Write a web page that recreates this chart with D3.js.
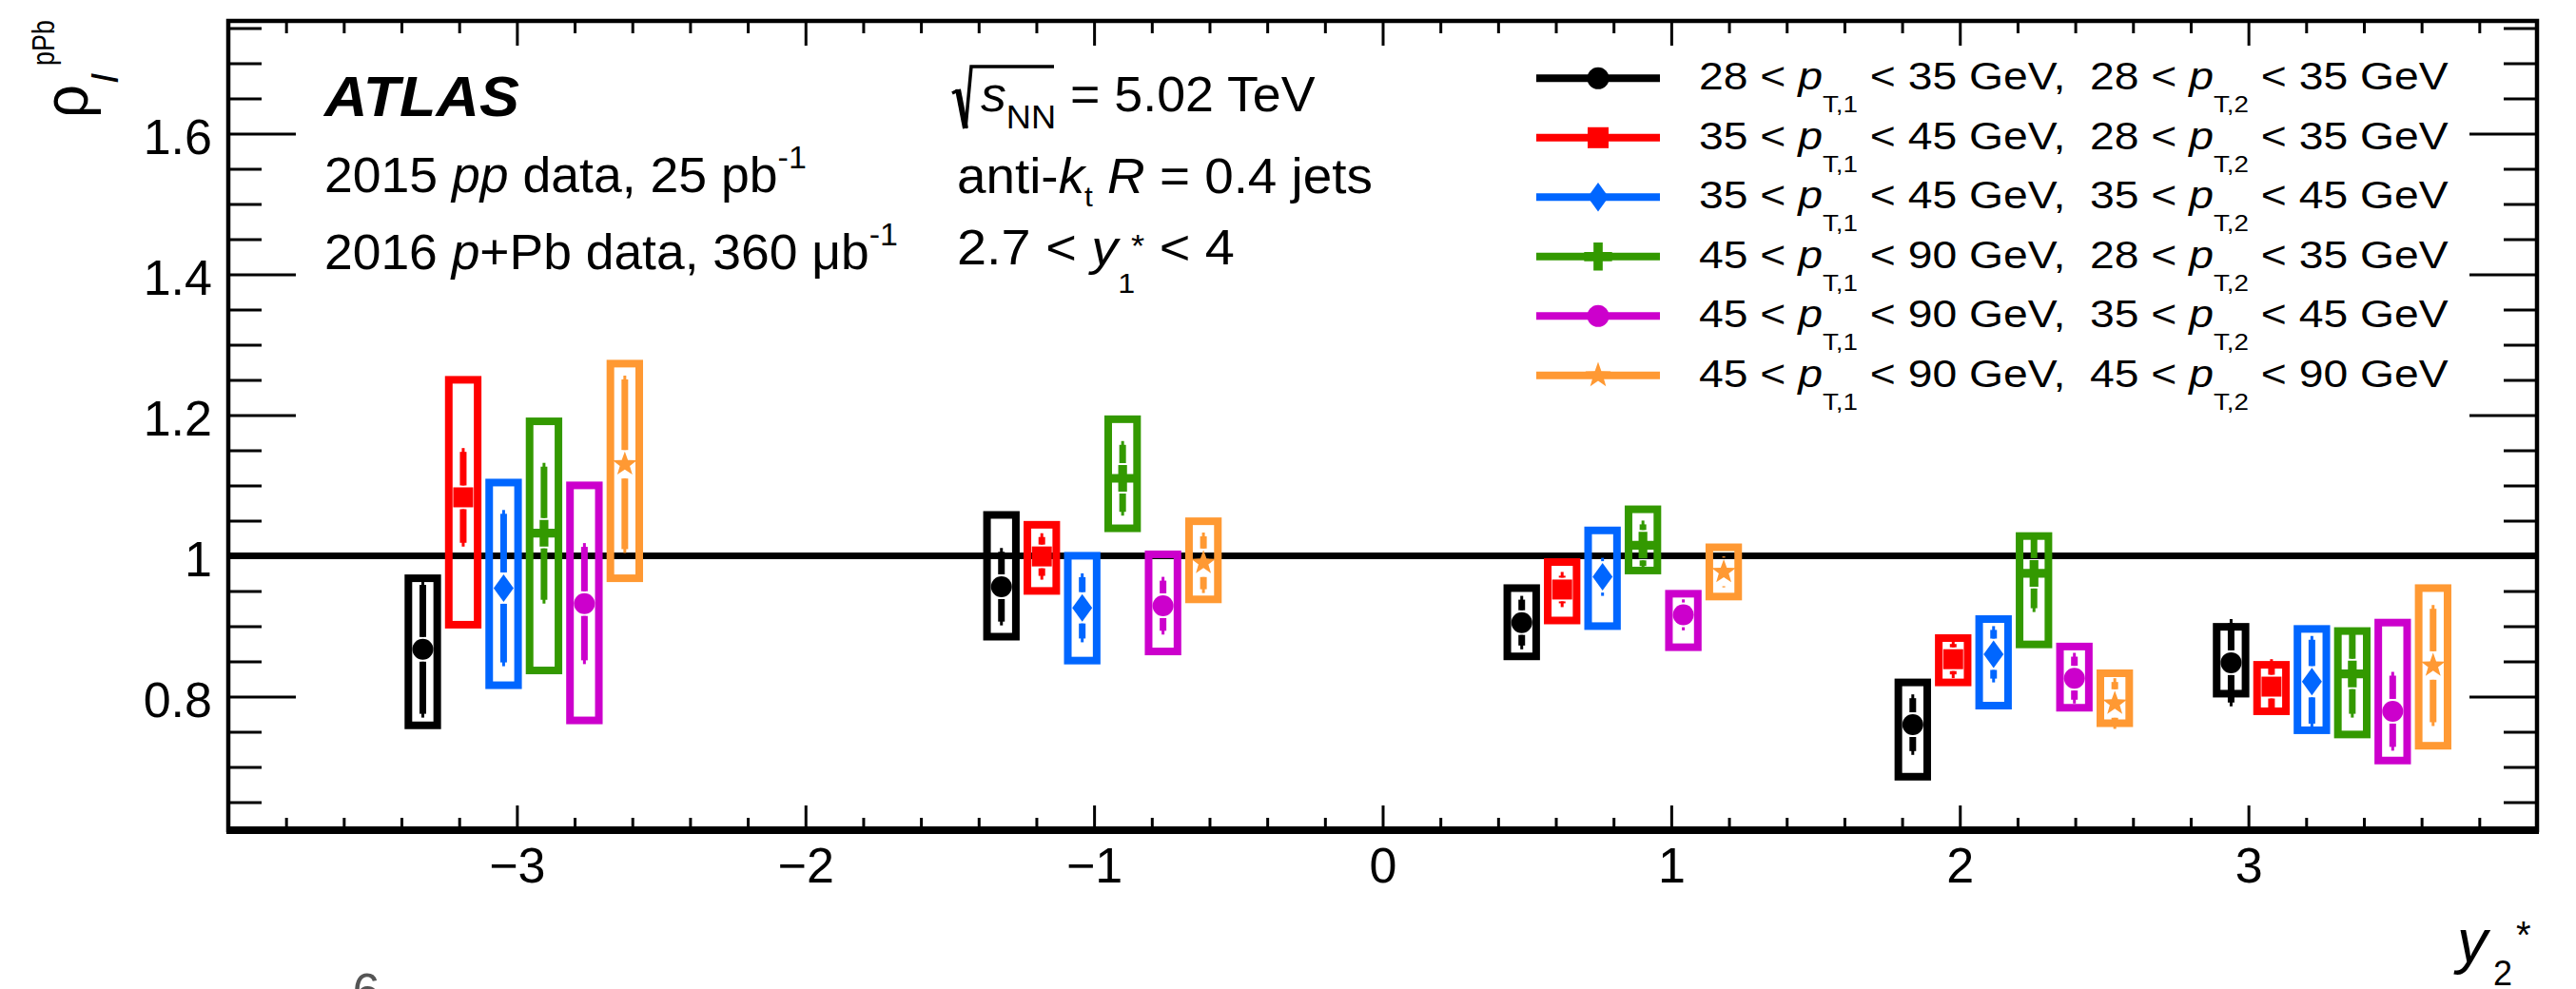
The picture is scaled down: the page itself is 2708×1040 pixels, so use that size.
<!DOCTYPE html>
<html>
<head>
<meta charset="utf-8">
<script src="https://cdn.jsdelivr.net/npm/d3@7"></script>
<style>
  html, body { margin: 0; padding: 0; background: #fff; }
  svg { display: block; }
  text { font-family: "Liberation Sans", Arial, Helvetica, sans-serif; fill: #000; white-space: pre; }
</style>
</head>
<body>
<svg id="chart" width="2708" height="1040"></svg>
<script>
// ---- data: rho_I^pPb versus y2*, six (pT,1 , pT,2) selections ----
const y2Centers = [-2.976, -0.971, 0.832, 2.187, 3.290];
const pt1Bins = [[28, 35], [35, 45], [35, 45], [45, 90], [45, 90], [45, 90]];
const pt2Bins = [[28, 35], [28, 35], [35, 45], [28, 35], [35, 45], [45, 90]];
const seriesColors = ["#000000", "#ff0000", "#0066ff", "#339900", "#cc00cc", "#ff9933"];
const seriesMarkers = ["circle", "square", "diamond", "cross", "circle", "star"];

// central values, one row per selection, one column per y2* bin
const rhoValues = [
  [0.867, 0.956, 0.905, 0.760, 0.848],
  [1.083, 0.999, 0.952, 0.853, 0.814],
  [0.954, 0.926, 0.970, 0.860, 0.821],
  [1.032, 1.110, 1.015, 0.975, 0.832],
  [0.932, 0.929, 0.916, 0.826, 0.779],
  [1.130, 0.990, 0.977, 0.790, 0.844]
];
const statErr = [
  [0.097, 0.055, 0.038, 0.043, 0.062],
  [0.070, 0.033, 0.025, 0.027, 0.039],
  [0.111, 0.049, 0.027, 0.040, 0.065],
  [0.100, 0.053, 0.035, 0.055, 0.062],
  [0.086, 0.041, 0.022, 0.036, 0.056],
  [0.126, 0.043, 0.022, 0.036, 0.086]
];
const systUp = [
  [0.101, 0.102, 0.049, 0.060, 0.051],
  [0.167, 0.045, 0.039, 0.030, 0.031],
  [0.150, 0.074, 0.066, 0.050, 0.075],
  [0.159, 0.084, 0.051, 0.053, 0.061],
  [0.168, 0.073, 0.030, 0.045, 0.126],
  [0.143, 0.059, 0.035, 0.043, 0.110]
];
const systDown = [
  [0.108, 0.071, 0.048, 0.074, 0.044],
  [0.181, 0.049, 0.044, 0.033, 0.035],
  [0.138, 0.075, 0.070, 0.073, 0.069],
  [0.195, 0.071, 0.036, 0.101, 0.086],
  [0.166, 0.065, 0.046, 0.042, 0.070],
  [0.162, 0.052, 0.035, 0.028, 0.114]
];
const xTicks = [-3, -2, -1, 0, 1, 2, 3];
const yTicks = [0.8, 1, 1.2, 1.4, 1.6];

// ---- layout ----
const L = 240, R = 2667, T = 22, B = 873;
const x = d3.scaleLinear().domain([-4, 4]).range([L, R]);
const y = d3.scaleLinear().domain([0.61, 1.76]).range([B, T]);
const svg = d3.select("#chart");
const FONT = 52;

// horizontal displacement of the selections inside one y2* bin (in y2* units)
const displace = s => (s - 2.5) * 0.14;
const boxHalf = 0.05;

// ---- marker shapes ----
function markerPath(kind, scale = 1) {
  const p = d3.path();
  if (kind === "circle") {
    const r = 11 * scale; p.moveTo(r, 0); p.arc(0, 0, r, 0, 2 * Math.PI);
  } else if (kind === "square") {
    const h = 10.5 * scale; p.rect(-h, -h, 2 * h, 2 * h);
  } else if (kind === "diamond") {
    const w = 10.5 * scale, h = 14.5 * scale;
    p.moveTo(0, -h); p.lineTo(w, 0); p.lineTo(0, h); p.lineTo(-w, 0); p.closePath();
  } else if (kind === "cross") {
    const a = 14 * scale, t = 4.6 * scale;
    p.moveTo(-t, -a); p.lineTo(t, -a); p.lineTo(t, -t); p.lineTo(a, -t); p.lineTo(a, t);
    p.lineTo(t, t); p.lineTo(t, a); p.lineTo(-t, a); p.lineTo(-t, t); p.lineTo(-a, t);
    p.lineTo(-a, -t); p.lineTo(-t, -t); p.closePath();
  } else if (kind === "star") {
    const ro = 13.5 * scale, ri = 5.5 * scale;
    for (let k = 0; k < 10; k++) {
      const ang = -Math.PI / 2 + k * Math.PI / 5, rr = k % 2 ? ri : ro;
      const px = rr * Math.cos(ang), py = rr * Math.sin(ang);
      k ? p.lineTo(px, py) : p.moveTo(px, py);
    }
    p.closePath();
  }
  return p.toString();
}
const markerHalfHeight = { circle: 11, square: 10.5, diamond: 14.5, cross: 14, star: 13 };

// ---- reference line at 1 ----
svg.append("line")
  .attr("x1", x(-4)).attr("x2", x(4)).attr("y1", y(1)).attr("y2", y(1))
  .attr("stroke", "#000").attr("stroke-width", 7);

// ---- systematic boxes ----
const plot = svg.append("g");
rhoValues.forEach((vals, s) => {
  plot.append("g").selectAll("rect").data(vals).join("rect")
    .attr("x", (v, g) => x(y2Centers[g] + displace(s) - boxHalf))
    .attr("width", (v, g) => x(y2Centers[g] + displace(s) + boxHalf) - x(y2Centers[g] + displace(s) - boxHalf))
    .attr("y", (v, g) => y(v + systUp[s][g]))
    .attr("height", (v, g) => y(v - systDown[s][g]) - y(v + systUp[s][g]))
    .attr("fill", "none").attr("stroke", seriesColors[s]).attr("stroke-width", 8);
});

// ---- statistical bars and markers ----
rhoValues.forEach((vals, s) => {
  const col = seriesColors[s], kind = seriesMarkers[s];
  const gap = markerHalfHeight[kind] + 2;
  const gs = plot.append("g");
  vals.forEach((v, g) => {
    const cx = x(y2Centers[g] + displace(s));
    const cy = y(v), yHi = y(v + statErr[s][g]), yLo = y(v - statErr[s][g]);
    // thin full-length line plus thick body, interrupted at the marker
    [[yHi, cy - gap], [cy + gap, yLo]].forEach(([a, b]) => {
      if (b > a) {
        gs.append("line").attr("x1", cx).attr("x2", cx).attr("y1", a).attr("y2", b)
          .attr("stroke", col).attr("stroke-width", 3);
        const a2 = a === yHi ? a + 4 : a, b2 = b === yLo ? b - 4 : b;
        if (b2 > a2) gs.append("line").attr("x1", cx).attr("x2", cx).attr("y1", a2).attr("y2", b2)
          .attr("stroke", col).attr("stroke-width", 7);
      }
    });
    gs.append("path").attr("d", markerPath(kind)).attr("transform", `translate(${cx},${cy})`)
      .attr("fill", col);
  });
});

// ---- axes ----
const minorX = d3.range(-38, 39, 2).map(d => d / 10).filter(d => Math.abs(d - Math.round(d)) > 1e-6);
const minorY = d3.range(13, 36).map(d => d * 0.05).filter(d => Math.abs(d * 5 - Math.round(d * 5)) > 1e-6);

function styleAxis(g) {
  g.select(".domain").remove();
  g.selectAll(".tick line").attr("stroke", "#000").attr("stroke-width", 3);
  g.attr("font-family", null).attr("font-size", FONT);
}
svg.append("g").attr("transform", `translate(0,${B})`)
  .call(d3.axisBottom(x).tickValues(xTicks).tickSize(-26).tickPadding(18).tickFormat(d3.format("")))
  .call(styleAxis);
svg.append("g").attr("transform", `translate(0,${B})`)
  .call(d3.axisBottom(x).tickValues(minorX).tickSize(-13).tickFormat(""))
  .call(styleAxis);
svg.append("g").attr("transform", `translate(0,${T})`)
  .call(d3.axisTop(x).tickValues(xTicks).tickSize(-26).tickFormat(""))
  .call(styleAxis);
svg.append("g").attr("transform", `translate(0,${T})`)
  .call(d3.axisTop(x).tickValues(minorX).tickSize(-13).tickFormat(""))
  .call(styleAxis);
const yLeft = svg.append("g").attr("transform", `translate(${L},0)`)
  .call(d3.axisLeft(y).tickValues(yTicks).tickSize(-71).tickPadding(17).tickFormat(d3.format("~g")))
  .call(styleAxis);
yLeft.selectAll(".tick text").attr("dy", "0.40em");
svg.append("g").attr("transform", `translate(${L},0)`)
  .call(d3.axisLeft(y).tickValues(minorY).tickSize(-35).tickFormat(""))
  .call(styleAxis);
svg.append("g").attr("transform", `translate(${R},0)`)
  .call(d3.axisRight(y).tickValues(yTicks).tickSize(-71).tickFormat(""))
  .call(styleAxis);
svg.append("g").attr("transform", `translate(${R},0)`)
  .call(d3.axisRight(y).tickValues(minorY).tickSize(-35).tickFormat(""))
  .call(styleAxis);

// frame
svg.append("rect").attr("x", L).attr("y", T).attr("width", R - L).attr("height", B - T)
  .attr("fill", "none").attr("stroke", "#000").attr("stroke-width", 4.5);
svg.append("line").attr("x1", L - 2).attr("x2", R + 2).attr("y1", B).attr("y2", B)
  .attr("stroke", "#000").attr("stroke-width", 8);

// ---- rich text helper: parts {t, i (italic), b (bold), size, shift, dx} ----
function richText(parent, x0, y0, size, parts, width) {
  const t = parent.append("text").attr("x", x0).attr("y", y0).attr("font-size", size);
  let prev = 0;
  parts.forEach(p => {
    const sh = p.shift || 0;
    const ts = t.append("tspan").text(p.t).attr("dy", sh - prev);
    if (p.size) ts.attr("font-size", p.size);
    if (p.i) ts.attr("font-style", "italic");
    if (p.b) ts.attr("font-weight", "bold");
    if (p.dx) ts.attr("dx", p.dx);
    prev = sh;
  });
  if (width) {
    const w = t.node().getBBox().width;
    const k = width / w;
    t.attr("transform", `translate(${x0 * (1 - k)},0) scale(${k},1)`);
  }
  return t;
}

// ---- labels ----
richText(svg, 341, 122, 60, [{ t: "ATLAS", b: true, i: true }], 207);
richText(svg, 341, 202, FONT, [
  { t: "2015 " }, { t: "pp", i: true }, { t: " data, 25 pb" }, { t: "-1", size: 33, shift: -25 }
], 507);
richText(svg, 341, 283, FONT, [
  { t: "2016 " }, { t: "p", i: true }, { t: "+Pb data, 360 \u03bcb" }, { t: "-1", size: 33, shift: -25 }
], 603);

// sqrt(s_NN)
svg.append("path").attr("d", "M1001,98 L1007,95").attr("stroke", "#000").attr("stroke-width", 3.5).attr("fill", "none");
svg.append("path").attr("d", "M1007,94 L1015,135").attr("stroke", "#000").attr("stroke-width", 6).attr("fill", "none");
svg.append("path").attr("d", "M1015,135 L1021,70 L1108,70").attr("stroke", "#000").attr("stroke-width", 3.5).attr("fill", "none");
richText(svg, 1031, 117, FONT, [
  { t: "s", i: true }, { t: "NN", size: 35, shift: 18 }, { t: " = 5.02 TeV", shift: 0 }
], 352);
richText(svg, 1006, 203, FONT, [
  { t: "anti-" }, { t: "k", i: true }, { t: "t", size: 30, shift: 14 }, { t: " " },
  { t: "R", i: true }, { t: " = 0.4 jets" }
], 437);
richText(svg, 1006, 278, FONT, [
  { t: "2.7 < " }, { t: "y", i: true }, { t: "1", size: 30, shift: 30 },
  { t: "*", size: 34, shift: -8, dx: -4 }, { t: " < 4", shift: 0 }
], 292);

// ---- legend ----
const legendRows = [82.3, 144.8, 207.3, 269.8, 332.3, 394.8];
const lg = svg.append("g");
pt1Bins.forEach((b1, s) => {
  const b2 = pt2Bins[s], ry = legendRows[s], col = seriesColors[s];
  lg.append("line").attr("x1", 1615).attr("x2", 1745).attr("y1", ry).attr("y2", ry)
    .attr("stroke", col).attr("stroke-width", 8);
  lg.append("path").attr("d", markerPath(seriesMarkers[s], 1.05))
    .attr("transform", `translate(1680,${ry})`).attr("fill", col);
  richText(lg, 1786, ry + 12, 40, [
    { t: `${b1[0]} < ` }, { t: "p", i: true }, { t: "T,1", size: 24, shift: 24 },
    { t: ` < ${b1[1]} GeV,  ${b2[0]} < `, shift: 0 }, { t: "p", i: true },
    { t: "T,2", size: 24, shift: 24 }, { t: ` < ${b2[1]} GeV`, shift: 0 }
  ], 788);
});

// ---- axis titles ----
// rotated y title: local x runs upward along the axis, local y points right
const yt = svg.append("g").attr("transform", "rotate(-90)");
richText(yt, -124, 92, 66, [{ t: "\u03c1" }], 35);
yt.append("text").attr("x", -88).attr("y", 124).attr("font-size", 40).attr("font-style", "italic").text("I");
richText(yt, -69, 57, 34, [{ t: "pPb" }], 48);

svg.append("text").attr("x", 2583).attr("y", 1012).attr("font-size", 64).attr("font-style", "italic").text("y");
svg.append("text").attr("x", 2621).attr("y", 1036).attr("font-size", 36).text("2");
svg.append("text").attr("x", 2645).attr("y", 997).attr("font-size", 40).text("*");

// page number at the foot
svg.append("text").attr("x", 385).attr("y", 1060).attr("font-size", 52)
  .attr("text-anchor", "middle").style("fill", "#555").text("6");
</script>
</body>
</html>
